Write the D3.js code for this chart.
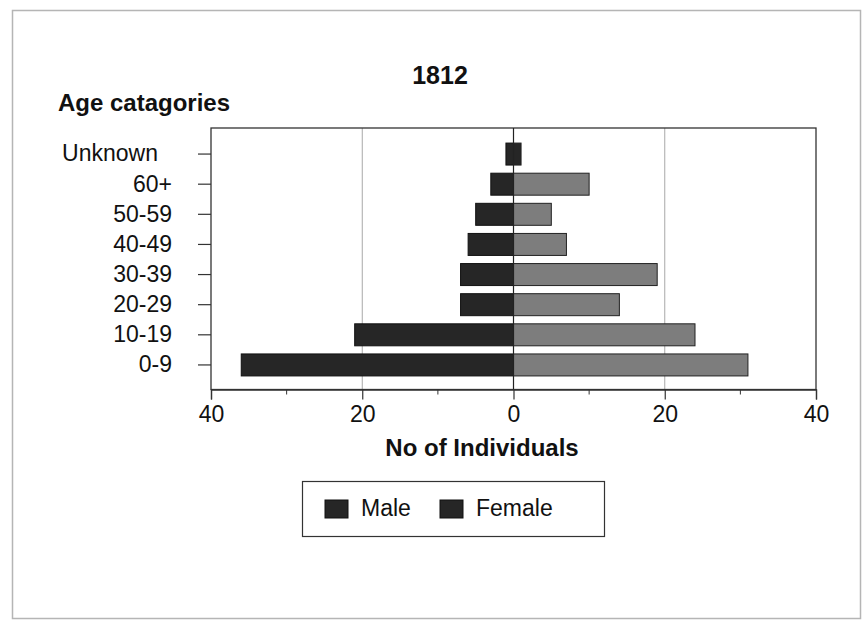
<!DOCTYPE html>
<html>
<head>
<meta charset="utf-8">
<script src="https://cdn.jsdelivr.net/npm/d3@7"></script>
<style>
  html, body { margin: 0; padding: 0; background: #fff; }
  svg { display: block; font-family: Arial, "Liberation Sans", sans-serif; }
</style>
</head>
<body>
<svg id="chart" width="865" height="621"></svg>
<script>
// Age pyramid, 1812
const categories = ["Unknown", "60+", "50-59", "40-49", "30-39", "20-29", "10-19", "0-9"];
const maleValues = [1, 3, 5, 6, 7, 7, 21, 36];
const femaleValues = [1, 10, 5, 7, 19, 14, 24, 31];
const xTickValues = [-40, -20, 0, 20, 40];
const xMinorTicks = [-30, -10, 10, 30];
const seriesNames = ["Male", "Female"];

const maleColor = "#262626";
const femaleSeriesColor = "#262626";   // series default (legend, Unknown)
const femalePointColor = "#7d7d7d";    // recoloured points

const svg = d3.select("#chart");

// outer frame
svg.append("rect")
  .attr("x", 12.5).attr("y", 10.5).attr("width", 848).attr("height", 608)
  .attr("fill", "#fff").attr("stroke", "#b5b5b5").attr("stroke-width", 1.5);

const plot = { left: 211, right: 816, top: 128, bottom: 389.5 };

const x = d3.scaleLinear().domain([-40, 40]).range([plot.left, plot.right]);
const y = d3.scaleBand().domain(categories)
  .range([139, 380]).paddingInner(0.27).paddingOuter(0.135);

// gridlines at ±20
svg.append("g").selectAll("line").data([-20, 20]).join("line")
  .attr("x1", d => x(d)).attr("x2", d => x(d))
  .attr("y1", plot.top).attr("y2", plot.bottom)
  .attr("stroke", "#a8a8a8").attr("stroke-width", 1);

// plot border
svg.append("rect")
  .attr("x", plot.left).attr("y", plot.top)
  .attr("width", plot.right - plot.left).attr("height", plot.bottom - plot.top)
  .attr("fill", "none").attr("stroke", "#333").attr("stroke-width", 1.3);

// male bars (to the left)
svg.append("g").selectAll("rect").data(categories).join("rect")
  .attr("x", (c, i) => x(-maleValues[i]))
  .attr("y", c => y(c))
  .attr("width", (c, i) => x(0) - x(-maleValues[i]))
  .attr("height", y.bandwidth())
  .attr("fill", maleColor).attr("stroke", "#111").attr("stroke-width", 1);

// female bars (to the right)
svg.append("g").selectAll("rect").data(categories).join("rect")
  .attr("x", x(0))
  .attr("y", c => y(c))
  .attr("width", (c, i) => x(femaleValues[i]) - x(0))
  .attr("height", y.bandwidth())
  .attr("fill", c => c === "Unknown" ? femaleSeriesColor : femalePointColor)
  .attr("stroke", "#222").attr("stroke-width", 1);

// zero line
svg.append("line")
  .attr("x1", x(0)).attr("x2", x(0)).attr("y1", plot.top).attr("y2", plot.bottom)
  .attr("stroke", "#222").attr("stroke-width", 1.2);

// x axis
const xAxis = svg.append("g").attr("transform", `translate(0,${plot.bottom})`)
  .call(d3.axisBottom(x).tickValues(xTickValues).tickSize(10).tickPadding(6)
    .tickFormat(d => Math.abs(d)));
xAxis.select(".domain").attr("stroke", "#333").attr("stroke-width", 1.3);
xAxis.selectAll(".tick line").attr("stroke", "#333").attr("stroke-width", 1.2);
xAxis.selectAll(".tick text").attr("font-size", 23).attr("fill", "#111")
  .attr("font-family", "Arial, 'Liberation Sans', sans-serif");

// minor ticks
svg.append("g").selectAll("line").data(xMinorTicks).join("line")
  .attr("x1", d => x(d)).attr("x2", d => x(d))
  .attr("y1", plot.bottom).attr("y2", plot.bottom + 5)
  .attr("stroke", "#333").attr("stroke-width", 1);

// y axis
const yAxis = svg.append("g").attr("transform", `translate(${plot.left},0)`)
  .call(d3.axisLeft(y).tickSize(13).tickPadding(26));
yAxis.select(".domain").remove();
yAxis.selectAll(".tick line").attr("stroke", "#333").attr("stroke-width", 1.2);
yAxis.selectAll(".tick text").attr("font-size", 23).attr("fill", "#111")
  .attr("font-family", "Arial, 'Liberation Sans', sans-serif");
yAxis.selectAll(".tick text").filter(d => d === "Unknown").attr("dx", -14);

// titles
svg.append("text").attr("x", 440).attr("y", 84)
  .attr("text-anchor", "middle").attr("font-size", 25).attr("font-weight", "bold")
  .attr("fill", "#111").text("1812");
svg.append("text").attr("x", 58).attr("y", 111)
  .attr("font-size", 24).attr("font-weight", "bold")
  .attr("fill", "#111").text("Age catagories");
svg.append("text").attr("x", 482).attr("y", 456)
  .attr("text-anchor", "middle").attr("font-size", 24).attr("font-weight", "bold")
  .attr("fill", "#111").text("No of Individuals");

// legend
const legend = svg.append("g");
legend.append("rect").attr("x", 302.5).attr("y", 481.5).attr("width", 302).attr("height", 55)
  .attr("fill", "#fff").attr("stroke", "#333").attr("stroke-width", 1.2);
const legendX = [325, 440];
const legendColors = [maleColor, femaleSeriesColor];
seriesNames.forEach((name, i) => {
  legend.append("rect").attr("x", legendX[i]).attr("y", 500).attr("width", 23).attr("height", 18)
    .attr("fill", legendColors[i]).attr("stroke", "#111");
  legend.append("text").attr("x", legendX[i] + 36).attr("y", 516)
    .attr("font-size", 23).attr("fill", "#111").text(name);
});
</script>
</body>
</html>
